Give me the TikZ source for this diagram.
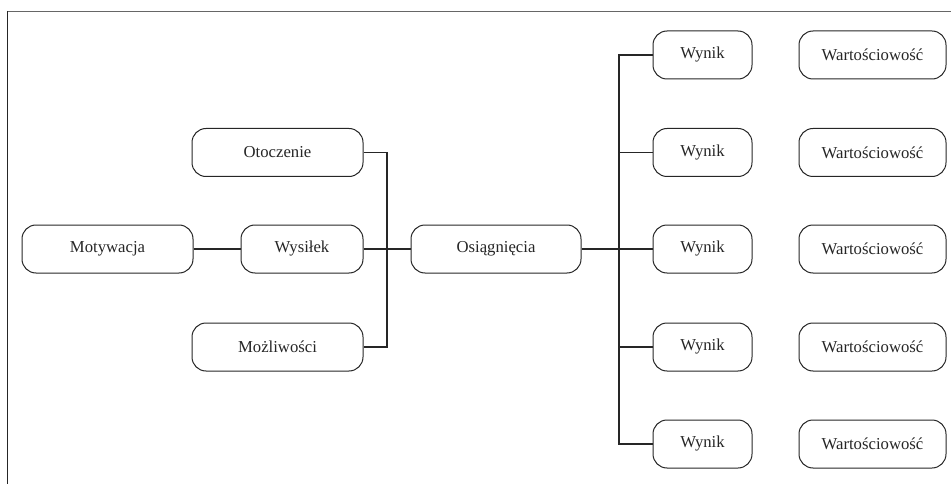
\documentclass[tikz,border=0pt]{standalone}
\usepackage{fontspec}
\setmainfont{Liberation Serif}
\begin{document}
\begin{tikzpicture}[x=1pt,y=-1pt,
  box/.style={draw=black!85,line width=1pt,rounded corners=14pt,inner sep=0pt,
    minimum height=48pt,font=\fontsize{16.7}{20}\selectfont,text=black!85},
  link/.style={draw=black!85,line width=1.1pt}]
\useasboundingbox (0,0) rectangle (951,484);
\draw[line width=1.6pt,black!60] (7,11.5) -- (951,11.5);
\draw[line width=1.6pt,black!85] (7.5,11) -- (7.5,484);
\node[box,minimum width=171pt] (mot) at (107.5,249) {Motywacja};
\node[box,minimum width=122pt] (wys) at (302,249) {Wysiłek};
\node[box,minimum width=171pt] (oto) at (277.5,152.5) {Otoczenie};
\node[box,minimum width=171pt] (moz) at (277.5,347) {Możliwości};
\node[box,minimum width=170pt] (osi) at (496,249) {Osiągnięcia};
\foreach \i/\y in {1/55,2/152.5,3/249,4/347,5/444}{
  \node[box,minimum width=99pt] (wyn\i) at (702.5,\y) {Wynik};
  \node[box,minimum width=147pt] (war\i) at (872.5,\y) {Wartościowość};
}
\coordinate (jl) at (387,249);
\coordinate (jr) at (619,249);
\draw[link] (mot.east) -- (wys.west);
\draw[link] (wys.east) -- (osi.west);
\draw[link] (oto.east) -| (jl) |- (moz.east);
\draw[link] (osi.east) -- (wyn3.west);
\draw[link] (wyn1.west) -| (jr) |- (wyn5.west);
\draw[link] (jr |- wyn2.west) -- (wyn2.west);
\draw[link] (jr |- wyn4.west) -- (wyn4.west);
\end{tikzpicture}
\end{document}
